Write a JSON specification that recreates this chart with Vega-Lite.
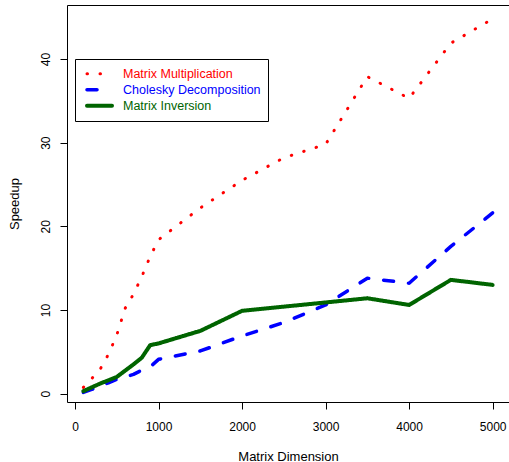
{
  "$schema": "https://vega.github.io/schema/vega-lite/v6.json",
  "width": 442,
  "height": 397,
  "autosize": {"type": "none"},
  "padding": {"left": 67, "top": 5, "right": 0, "bottom": 60},
  "background": "white",
  "config": {"view": {"stroke": null}, "font": "Liberation Sans"},
  "data": {"values": [
    {"x": 100, "y": 0.75, "series": "Matrix Multiplication"},
    {"x": 200, "y": 1.8, "series": "Matrix Multiplication"},
    {"x": 300, "y": 2.9, "series": "Matrix Multiplication"},
    {"x": 400, "y": 4.7, "series": "Matrix Multiplication"},
    {"x": 500, "y": 7.0, "series": "Matrix Multiplication"},
    {"x": 600, "y": 10.2, "series": "Matrix Multiplication"},
    {"x": 700, "y": 11.9, "series": "Matrix Multiplication"},
    {"x": 800, "y": 14.0, "series": "Matrix Multiplication"},
    {"x": 900, "y": 16.4, "series": "Matrix Multiplication"},
    {"x": 1000, "y": 18.4, "series": "Matrix Multiplication"},
    {"x": 1500, "y": 22.2, "series": "Matrix Multiplication"},
    {"x": 2000, "y": 25.5, "series": "Matrix Multiplication"},
    {"x": 2500, "y": 28.2, "series": "Matrix Multiplication"},
    {"x": 3000, "y": 29.8, "series": "Matrix Multiplication"},
    {"x": 3500, "y": 37.9, "series": "Matrix Multiplication"},
    {"x": 4000, "y": 35.3, "series": "Matrix Multiplication"},
    {"x": 4500, "y": 41.9, "series": "Matrix Multiplication"},
    {"x": 5000, "y": 44.8, "series": "Matrix Multiplication"},
    {"x": 100, "y": 0.15, "series": "Cholesky Decomposition"},
    {"x": 200, "y": 0.5, "series": "Cholesky Decomposition"},
    {"x": 300, "y": 0.9, "series": "Cholesky Decomposition"},
    {"x": 400, "y": 1.3, "series": "Cholesky Decomposition"},
    {"x": 500, "y": 1.7, "series": "Cholesky Decomposition"},
    {"x": 600, "y": 2.0, "series": "Cholesky Decomposition"},
    {"x": 700, "y": 2.3, "series": "Cholesky Decomposition"},
    {"x": 800, "y": 2.8, "series": "Cholesky Decomposition"},
    {"x": 900, "y": 3.2, "series": "Cholesky Decomposition"},
    {"x": 1000, "y": 4.1, "series": "Cholesky Decomposition"},
    {"x": 1500, "y": 5.1, "series": "Cholesky Decomposition"},
    {"x": 2000, "y": 6.9, "series": "Cholesky Decomposition"},
    {"x": 2500, "y": 8.5, "series": "Cholesky Decomposition"},
    {"x": 3000, "y": 10.6, "series": "Cholesky Decomposition"},
    {"x": 3500, "y": 13.8, "series": "Cholesky Decomposition"},
    {"x": 4000, "y": 13.2, "series": "Cholesky Decomposition"},
    {"x": 4500, "y": 17.6, "series": "Cholesky Decomposition"},
    {"x": 5000, "y": 21.6, "series": "Cholesky Decomposition"},
    {"x": 100, "y": 0.3, "series": "Matrix Inversion"},
    {"x": 200, "y": 0.75, "series": "Matrix Inversion"},
    {"x": 300, "y": 1.2, "series": "Matrix Inversion"},
    {"x": 400, "y": 1.6, "series": "Matrix Inversion"},
    {"x": 500, "y": 2.0, "series": "Matrix Inversion"},
    {"x": 600, "y": 2.75, "series": "Matrix Inversion"},
    {"x": 700, "y": 3.5, "series": "Matrix Inversion"},
    {"x": 800, "y": 4.3, "series": "Matrix Inversion"},
    {"x": 900, "y": 5.8, "series": "Matrix Inversion"},
    {"x": 1000, "y": 6.0, "series": "Matrix Inversion"},
    {"x": 1500, "y": 7.5, "series": "Matrix Inversion"},
    {"x": 2000, "y": 9.9, "series": "Matrix Inversion"},
    {"x": 2500, "y": 10.4, "series": "Matrix Inversion"},
    {"x": 3000, "y": 10.9, "series": "Matrix Inversion"},
    {"x": 3500, "y": 11.4, "series": "Matrix Inversion"},
    {"x": 4000, "y": 10.6, "series": "Matrix Inversion"},
    {"x": 4500, "y": 13.6, "series": "Matrix Inversion"},
    {"x": 5000, "y": 13.0, "series": "Matrix Inversion"}
  ]},
  "layer": [
    {
      "mark": {"type": "line", "strokeJoin": "round", "strokeCap": "round"},
      "encoding": {
        "x": {
          "field": "x", "type": "quantitative",
          "scale": {"domain": [-96, 5196], "nice": false, "zero": false},
          "axis": {
            "values": [0, 1000, 2000, 3000, 4000, 5000], "format": "d",
            "domain": true, "domainColor": "black", "domainWidth": 1,
            "ticks": true, "tickColor": "black", "tickSize": 7, "tickWidth": 1,
            "grid": false,
            "labelFont": "Liberation Sans", "labelFontSize": 12, "labelColor": "black", "labelPadding": 12,
            "title": "Matrix Dimension", "titleFont": "Liberation Sans", "titleFontSize": 13,
            "titleFontWeight": "normal", "titleColor": "black", "titlePadding": 18
          }
        },
        "y": {
          "field": "y", "type": "quantitative",
          "scale": {"domain": [-1.0, 46.46], "nice": false, "zero": false},
          "axis": {
            "values": [0, 10, 20, 30, 40],
            "domain": true, "domainColor": "black", "domainWidth": 1,
            "ticks": true, "tickColor": "black", "tickSize": 7, "tickWidth": 1,
            "grid": false,
            "labelFont": "Liberation Sans", "labelFontSize": 12, "labelColor": "black",
            "labelAngle": -90, "labelAlign": "center", "labelBaseline": "alphabetic", "labelPadding": 11,
            "title": "Speedup", "titleFont": "Liberation Sans", "titleFontSize": 13,
            "titleFontWeight": "normal", "titleColor": "black", "titlePadding": 18
          }
        },
        "color": {
          "field": "series", "type": "nominal",
          "scale": {"domain": ["Matrix Multiplication", "Cholesky Decomposition", "Matrix Inversion"], "range": ["#FF0000", "#0000FF", "#006400"]},
          "legend": {
            "title": null, "orient": "none", "legendX": 8, "legendY": 54,
            "strokeColor": "black", "fillColor": "white", "padding": 7,
            "symbolType": "stroke", "symbolSize": 625, "clipHeight": 15.5, "rowPadding": 0,
            "symbolOffset": 3, "labelOffset": 9,
            "labelFont": "Liberation Sans", "labelFontSize": 12.5, "labelLimit": 0,
            "encode": {
              "labels": {"update": {"fill": {"signal": "scale('color', datum.value)"}}},
              "symbols": {"update": {"strokeCap": {"value": "round"}}}
            }
          }
        },
        "strokeDash": {
          "field": "series", "type": "nominal",
          "scale": {"domain": ["Matrix Multiplication", "Cholesky Decomposition", "Matrix Inversion"], "range": [[0.5, 12.5], [10, 15], [1, 0]]},
          "legend": {
            "title": null, "orient": "none", "legendX": 8, "legendY": 54,
            "strokeColor": "black", "fillColor": "white", "padding": 7,
            "symbolType": "stroke", "symbolSize": 625, "clipHeight": 15.5, "rowPadding": 0,
            "symbolOffset": 3, "labelOffset": 9,
            "labelFont": "Liberation Sans", "labelFontSize": 12.5, "labelLimit": 0
          }
        },
        "strokeWidth": {
          "field": "series", "type": "nominal",
          "scale": {"domain": ["Matrix Multiplication", "Cholesky Decomposition", "Matrix Inversion"], "range": [3, 4, 4]},
          "legend": {
            "title": null, "orient": "none", "legendX": 8, "legendY": 54,
            "strokeColor": "black", "fillColor": "white", "padding": 7,
            "symbolType": "stroke", "symbolSize": 625, "clipHeight": 15.5, "rowPadding": 0,
            "symbolOffset": 3, "labelOffset": 9,
            "labelFont": "Liberation Sans", "labelFontSize": 12.5, "labelLimit": 0
          }
        }
      }
    },
    {
      "mark": {"type": "line", "opacity": 0},
      "encoding": {
        "x": {
          "field": "x", "type": "quantitative",
          "axis": {"orient": "top", "labels": false, "ticks": false, "grid": false, "title": null, "domain": true, "domainColor": "black", "domainWidth": 1}
        },
        "y": {"field": "y", "type": "quantitative"},
        "detail": {"field": "series"}
      }
    }
  ],
  "resolve": {"axis": {"x": "independent"}}
}
